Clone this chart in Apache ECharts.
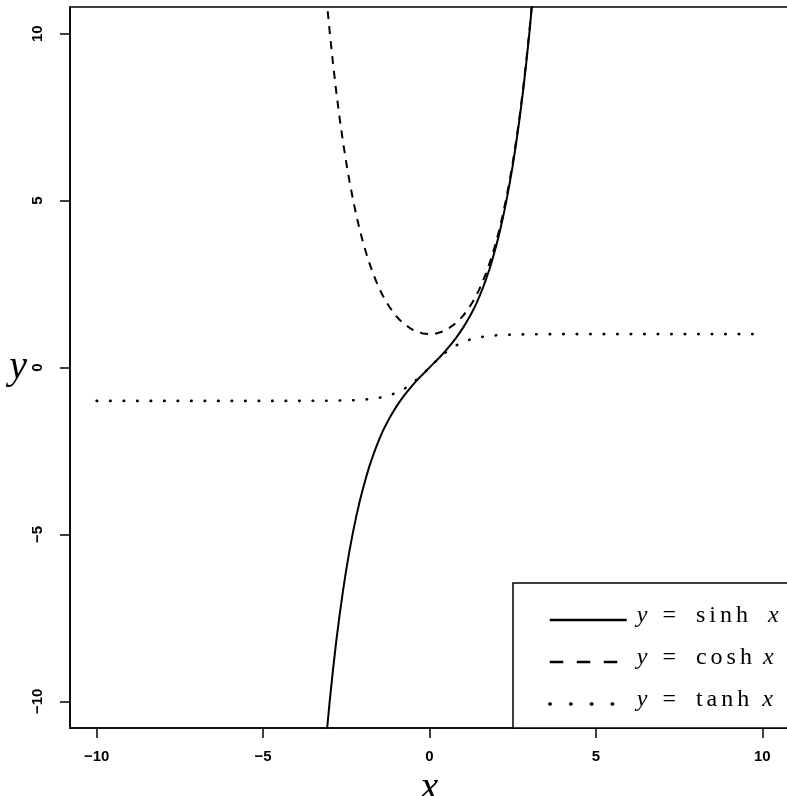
<!DOCTYPE html>
<html>
<head>
<meta charset="utf-8">
<script src="https://cdn.jsdelivr.net/npm/echarts@6/dist/echarts.min.js"></script>
<style>
  html, body { margin: 0; padding: 0; background: #fff; }
  #chart { width: 787px; height: 796px; }
</style>
</head>
<body>
<div id="chart"></div>
<script>
// ---- data ----
const seriesNames = ['y = sinh x', 'y = cosh x', 'y = tanh x'];

const xs = [-3.1, -3.0, -2.9, -2.8, -2.7, -2.6, -2.5, -2.4, -2.3, -2.2, -2.1, -2.0, -1.9, -1.8, -1.7, -1.6,
  -1.5, -1.4, -1.3, -1.2, -1.1, -1.0, -0.9, -0.8, -0.7, -0.6, -0.5, -0.4, -0.3, -0.2, -0.1, 0,
  0.1, 0.2, 0.3, 0.4, 0.5, 0.6, 0.7, 0.8, 0.9, 1.0, 1.1, 1.2, 1.3, 1.4, 1.5, 1.6, 1.7, 1.8, 1.9,
  2.0, 2.1, 2.2, 2.3, 2.4, 2.5, 2.6, 2.7, 2.8, 2.9, 3.0, 3.1];

const sinhY = [-11.08, -10.02, -9.06, -8.19, -7.41, -6.70, -6.05, -5.47, -4.94, -4.46, -4.02, -3.63, -3.27, -2.94, -2.65, -2.38,
  -2.13, -1.90, -1.70, -1.51, -1.34, -1.18, -1.03, -0.89, -0.76, -0.64, -0.52, -0.41, -0.30, -0.20, -0.10, 0,
  0.10, 0.20, 0.30, 0.41, 0.52, 0.64, 0.76, 0.89, 1.03, 1.18, 1.34, 1.51, 1.70, 1.90, 2.13, 2.38, 2.65, 2.94, 3.27,
  3.63, 4.02, 4.46, 4.94, 5.47, 6.05, 6.70, 7.41, 8.19, 9.06, 10.02, 11.08];

const coshY = [11.12, 10.07, 9.12, 8.25, 7.47, 6.77, 6.13, 5.56, 5.04, 4.57, 4.14, 3.76, 3.42, 3.11, 2.83, 2.58,
  2.35, 2.15, 1.97, 1.81, 1.67, 1.54, 1.43, 1.34, 1.26, 1.19, 1.13, 1.08, 1.05, 1.02, 1.01, 1.00,
  1.01, 1.02, 1.05, 1.08, 1.13, 1.19, 1.26, 1.34, 1.43, 1.54, 1.67, 1.81, 1.97, 2.15, 2.35, 2.58, 2.83, 3.11, 3.42,
  3.76, 4.14, 4.57, 5.04, 5.56, 6.13, 6.77, 7.47, 8.25, 9.12, 10.07, 11.12];

const tanhX = [-10, -9, -8, -7, -6, -5, -4, -3.5, -3, -2.5, -2.25, -2, -1.75, -1.5, -1.25, -1, -0.75, -0.5, -0.25, 0,
  0.25, 0.5, 0.75, 1, 1.25, 1.5, 1.75, 2, 2.25, 2.5, 3, 3.5, 4, 5, 6, 7, 8, 9, 10];
const tanhY = [-1, -1, -1, -1, -1, -1, -1, -0.998, -0.995, -0.987, -0.978, -0.964, -0.941, -0.905, -0.848, -0.762, -0.635, -0.462, -0.245, 0,
  0.245, 0.462, 0.635, 0.762, 0.848, 0.905, 0.941, 0.964, 0.978, 0.987, 0.995, 0.998, 1, 1, 1, 1, 1, 1, 1];

const xTicks = [-10, -5, 0, 5, 10];
const yTicks = [-10, -5, 0, 5, 10];
const axisMin = -10.8, axisMax = 10.8;

// ---- chart ----
const pairs = (a, b) => a.map((v, i) => [v, b[i]]);
const minus = v => String(v).replace('-', '\u2212');

const tickFont = { fontFamily: 'Liberation Sans, Arial, sans-serif', fontSize: 15, fontWeight: 'bold', color: '#000' };
const mathFont = { fontFamily: 'Liberation Serif, serif', fontStyle: 'italic', fontSize: 40, color: '#000' };

const LF = 'Liberation Serif, serif';
const base = { fontFamily: LF, fontSize: 24, lineHeight: 24, color: '#000' };
const rich = {
  v: { ...base, fontStyle: 'italic', padding: [0, 15, 8, 5] },
  e: { ...base, padding: [0, 20, 8, 0] },
  f: { ...base, padding: [0, 4, 8, 0] },
  x0: { ...base, fontStyle: 'italic', padding: [0, 0, 8, 16] },
  x1: { ...base, fontStyle: 'italic', padding: [0, 0, 8, 7] },
  x2: { ...base, fontStyle: 'italic', padding: [0, 0, 8, 9] }
};

const chart = echarts.init(document.getElementById('chart'), null, { renderer: 'canvas' });
chart.setOption({
  animation: false,
  backgroundColor: '#fff',
  grid: { left: 70, top: 7, width: 719, height: 721, outerBoundsMode: 'none', containLabel: false,
    show: true, borderColor: '#000', borderWidth: 1.5, backgroundColor: 'transparent' },
  xAxis: {
    type: 'value', min: axisMin, max: axisMax,
    name: 'x', nameLocation: 'middle', nameGap: 26, nameTextStyle: mathFont,
    axisLine: { show: true, onZero: false, lineStyle: { color: '#000', width: 1.5 } },
    axisTick: { show: true, length: 10, customValues: xTicks, lineStyle: { color: '#000', width: 1.5 } },
    axisLabel: { customValues: xTicks, margin: 21, formatter: minus, ...tickFont },
    splitLine: { show: false }
  },
  yAxis: {
    type: 'value', min: axisMin, max: axisMax,
    name: 'y', nameLocation: 'middle', nameRotate: 0, nameGap: 35, nameTextStyle: mathFont,
    axisLine: { show: true, onZero: false, lineStyle: { color: '#000', width: 1.5 } },
    axisTick: { show: true, length: 10, customValues: yTicks, lineStyle: { color: '#000', width: 1.5 } },
    axisLabel: { customValues: yTicks, margin: 25, rotate: 90, formatter: minus, ...tickFont },
    splitLine: { show: false }
  },
  legend: {
    orient: 'vertical', left: 513, top: 583,
    itemWidth: 77, itemHeight: 14, itemGap: 10,
    padding: [21, 60, 8, 35],
    borderColor: '#000', borderWidth: 1.5, backgroundColor: '#fff',
    selectedMode: false,
    itemStyle: { color: 'rgba(0,0,0,0)', borderColor: 'rgba(0,0,0,0)', borderWidth: 0 },
    data: [
      { name: seriesNames[0], lineStyle: { width: 2.5, type: 'solid' } },
      { name: seriesNames[1], lineStyle: { width: 2.5, type: [13.5, 13.5] } },
      { name: seriesNames[2], lineStyle: { width: 3.5, type: [0.5, 20.3], cap: 'round' } }
    ],
    formatter: name => {
      const p = name.split(' ');
      const row = seriesNames.indexOf(name);
      const letters = p[2].split('').map(ch => '{f|' + ch + '}').join('');
      return '{v|' + p[0] + '}{e|' + p[1] + '}' + letters + '{x' + row + '|' + p[3] + '}';
    },
    textStyle: { ...base, rich: rich }
  },
  series: [
    { name: seriesNames[0], type: 'line', data: pairs(xs, sinhY), symbol: 'none', showSymbol: false, clip: true,
      lineStyle: { color: '#000', width: 2, type: 'solid' }, itemStyle: { color: '#000' }, z: 4 },
    { name: seriesNames[1], type: 'line', data: pairs(xs, coshY), symbol: 'none', showSymbol: false, clip: true,
      lineStyle: { color: '#000', width: 2, type: [8, 7] }, itemStyle: { color: '#000' }, z: 3 },
    { name: seriesNames[2], type: 'line', data: pairs(tanhX, tanhY), symbol: 'none', showSymbol: false, clip: true,
      lineStyle: { color: '#000', width: 2.6, type: [0.5, 13], cap: 'round' }, itemStyle: { color: '#000' }, z: 2 }
  ]
});
</script>
</body>
</html>
